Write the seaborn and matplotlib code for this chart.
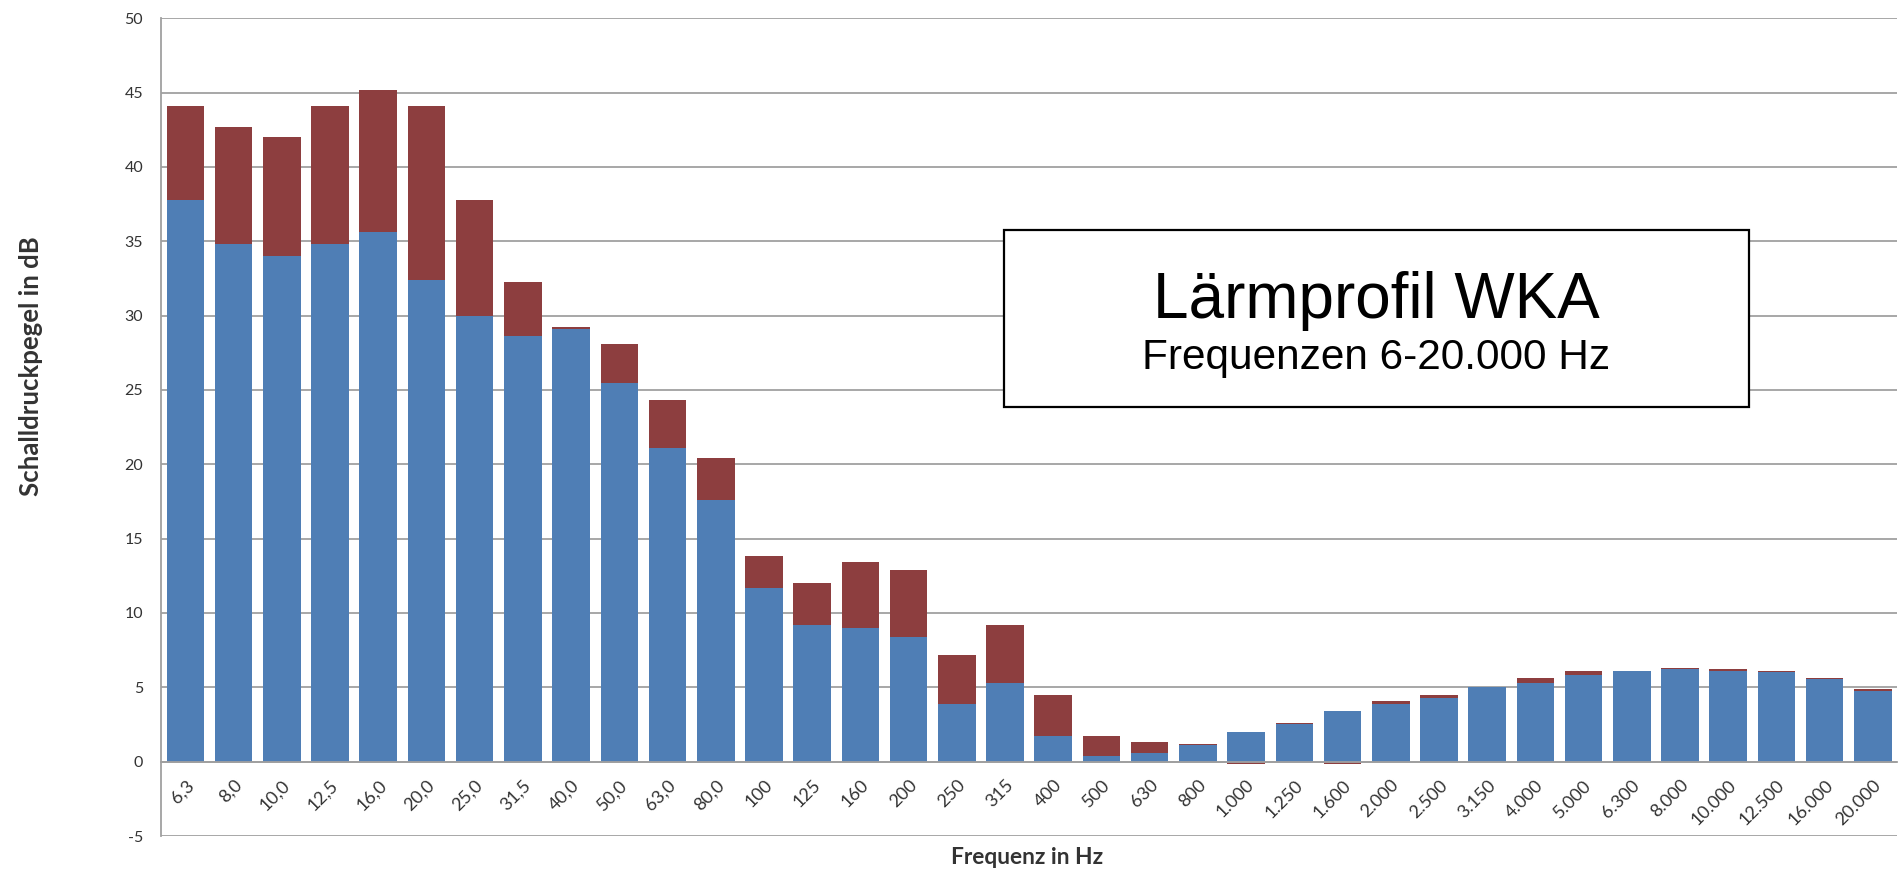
import numpy as np
import matplotlib
matplotlib.use("Agg")
import matplotlib.pyplot as plt
import seaborn as sns
from matplotlib.patches import Rectangle

# ---- data -------------------------------------------------------------
frequencies = ["6,3", "8,0", "10,0", "12,5", "16,0", "20,0", "25,0", "31,5",
               "40,0", "50,0", "63,0", "80,0", "100", "125", "160", "200",
               "250", "315", "400", "500", "630", "800", "1.000", "1.250",
               "1.600", "2.000", "2.500", "3.150", "4.000", "5.000", "6.300",
               "8.000", "10.000", "12.500", "16.000", "20.000"]

base_level = [37.8, 34.8, 34.0, 34.8, 35.6, 32.4, 30.0, 28.6, 29.1, 25.5,
              21.1, 17.6, 11.7, 9.2, 9.0, 8.4, 3.9, 5.3, 1.7, 0.4, 0.6, 1.1,
              2.0, 2.5, 3.4, 3.9, 4.3, 5.0, 5.3, 5.85, 6.1, 6.2, 6.1, 6.0,
              5.55, 4.75]

extra_level = [6.3, 7.9, 8.0, 9.3, 9.6, 11.7, 7.8, 3.65, 0.15, 2.6, 3.2, 2.8,
               2.1, 2.8, 4.45, 4.5, 3.3, 3.9, 2.8, 1.3, 0.7, 0.1, -0.15, 0.1,
               -0.15, 0.2, 0.2, 0.0, 0.3, 0.25, 0.0, 0.1, 0.1, 0.1, 0.1, 0.15]

title_main = "Lärmprofil WKA"
title_sub = "Frequenzen 6-20.000 Hz"
y_label = "Schalldruckpegel in dB"
x_label = "Frequenz in Hz"

# ---- style ------------------------------------------------------------
sns.set_style("white")
plt.rcParams["font.family"] = ["Lato", "DejaVu Sans"]
plt.rcParams["axes.unicode_minus"] = False

BLUE = "#4F7EB5"
RED = "#8D3E3F"
GRID = "#A0A0A0"
TXT = "#333333"

base = np.array(base_level)
extra = np.array(extra_level)
# stacked top of the red segment (positive extras stack on top, negative go below 0)
red_vals = np.where(extra >= 0, base + extra, extra)

W, H = 1898, 873
fig = plt.figure(figsize=(W / 100, H / 100), dpi=100)
ax = fig.add_axes([161.3 / W, 1 - 836 / H, (1897 - 161.3) / W, (836 - 18.3) / H])

sns.barplot(x=frequencies, y=red_vals, order=frequencies, color=RED,
            saturation=1, width=0.78, ax=ax, linewidth=0)
sns.barplot(x=frequencies, y=base, order=frequencies, color=BLUE,
            saturation=1, width=0.78, ax=ax, linewidth=0)

ax.set_xlim(-0.5, len(frequencies) - 0.5)
ax.set_ylim(-5, 50)
ax.set_yticks(np.arange(-5, 51, 5))
ax.yaxis.grid(True, color=GRID, linewidth=1.3)
ax.xaxis.grid(False)
ax.set_axisbelow(True)

for s in ["top", "right"]:
    ax.spines[s].set_visible(False)
ax.spines["left"].set_color(GRID)
ax.spines["left"].set_linewidth(1.3)
ax.spines["bottom"].set_position(("data", 0))
ax.spines["bottom"].set_color(GRID)
ax.spines["bottom"].set_linewidth(1.3)
ax.spines["bottom"].set_zorder(5)

ax.set_xticks(np.arange(len(frequencies)))
ax.set_xticklabels(frequencies)
ax.set_xticks(np.arange(-0.5, len(frequencies), 1), minor=True)
ax.tick_params(axis="x", which="major", length=0, pad=11, labelsize=13,
               labelcolor=TXT)
ax.tick_params(axis="x", which="minor", length=4, width=1.3, color=GRID,
               direction="out")
ax.tick_params(axis="y", length=4.5, width=1.3, color=GRID, pad=8.5,
               labelsize=11.5, labelcolor=TXT, direction="out")
plt.setp(ax.get_xticklabels(), rotation=45, ha="right", rotation_mode="anchor")

ax.set_xlabel("")
ax.set_ylabel("")

fig.text(31 / W, 1 - 366 / H, y_label, rotation=90, ha="center", va="center",
         fontsize=18.5, fontweight="bold", color=TXT)
fig.text(1027 / W, 1 - 857 / H, x_label, ha="center", va="center",
         fontsize=16.4, fontweight="bold", color=TXT)

# title box
box = Rectangle((1003.5 / W, 1 - 407 / H), (1749 - 1003.5) / W, (407 - 230) / H,
                transform=fig.transFigure, facecolor="white", edgecolor="black",
                linewidth=1.6, zorder=10)
fig.patches.append(box)
fig.text(1376 / W, 1 - 318 / H, title_main, ha="center", va="baseline",
         fontsize=46, family="Liberation Sans", color="black", zorder=11)
fig.text(1376 / W, 1 - 369 / H, title_sub, ha="center", va="baseline",
         fontsize=30.5, family="Liberation Sans", color="black", zorder=11)

fig.savefig("out.png", dpi=100, facecolor="white")
